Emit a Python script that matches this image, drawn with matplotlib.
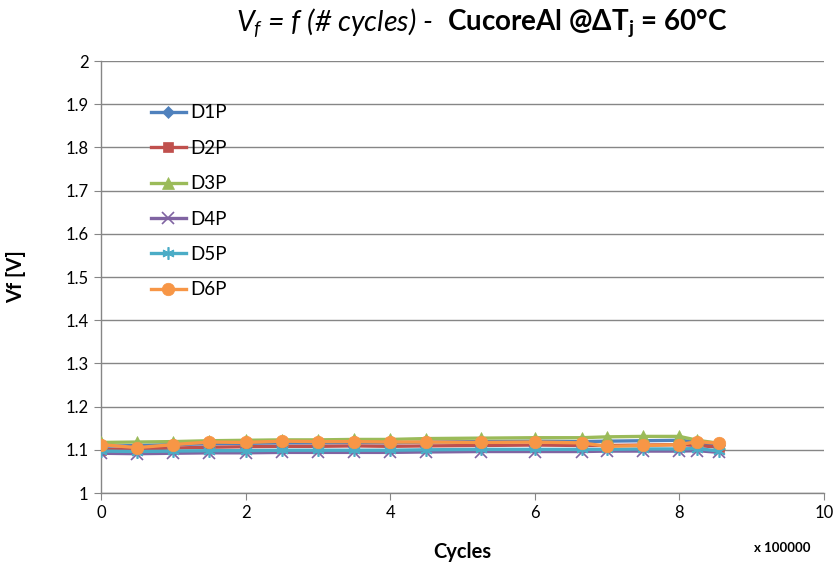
import matplotlib
matplotlib.use("Agg")
import matplotlib.pyplot as plt

plt.rcParams['font.family'] = ['Lato', 'DejaVu Sans']
plt.rcParams['mathtext.fontset'] = 'custom'
plt.rcParams['mathtext.rm'] = 'Lato'
plt.rcParams['mathtext.it'] = 'Lato:italic'
plt.rcParams['mathtext.bf'] = 'Lato:bold'

# cycles (x 100000)
cycles = [0, 0.5, 1, 1.5, 2, 2.5, 3, 3.5, 4, 4.5, 5.25, 6, 6.65, 7, 7.5, 8, 8.25, 8.55]

d1p = [1.108, 1.110, 1.112, 1.114, 1.115, 1.116, 1.116, 1.117, 1.116, 1.118, 1.119, 1.120, 1.119, 1.120, 1.121, 1.122, 1.118, 1.110]
d2p = [1.100, 1.102, 1.104, 1.106, 1.107, 1.108, 1.108, 1.109, 1.108, 1.109, 1.110, 1.111, 1.110, 1.110, 1.111, 1.112, 1.110, 1.106]
d3p = [1.117, 1.118, 1.119, 1.121, 1.122, 1.123, 1.123, 1.124, 1.124, 1.126, 1.127, 1.128, 1.128, 1.130, 1.131, 1.131, 1.122, 1.115]
d4p = [1.092, 1.091, 1.092, 1.093, 1.093, 1.094, 1.094, 1.094, 1.094, 1.095, 1.096, 1.096, 1.096, 1.097, 1.097, 1.097, 1.098, 1.094]
d5p = [1.097, 1.096, 1.097, 1.098, 1.098, 1.099, 1.099, 1.099, 1.099, 1.100, 1.101, 1.101, 1.101, 1.101, 1.102, 1.102, 1.103, 1.097]
d6p = [1.112, 1.105, 1.112, 1.118, 1.117, 1.120, 1.119, 1.119, 1.118, 1.118, 1.117, 1.118, 1.116, 1.108, 1.110, 1.112, 1.119, 1.115]

series_names = ["D1P", "D2P", "D3P", "D4P", "D5P", "D6P"]
series_values = [d1p, d2p, d3p, d4p, d5p, d6p]
colors = ["#4F81BD", "#C0504D", "#9BBB59", "#8064A2", "#4BACC6", "#F79646"]
markers = ["D", "s", "^", "x", (6, 2, 0), "o"]
msizes = [6, 7, 8, 8, 9, 9]

x_ticks = [0, 2, 4, 6, 8, 10]
y_ticks = [1, 1.1, 1.2, 1.3, 1.4, 1.5, 1.6, 1.7, 1.8, 1.9, 2]

W, H = 838, 567
fig = plt.figure(figsize=(W / 100, H / 100), dpi=100)
ax = fig.add_axes([101 / W, 1 - 493 / H, (824 - 101) / W, (493 - 61) / H])

for name, vals, c, m, ms in zip(series_names, series_values, colors, markers, msizes):
    ax.plot(cycles, vals, color=c, lw=2.4, marker=m, markersize=ms,
            markeredgewidth=1.2 if m in ("x", (6, 2, 0)) else 0.5,
            markeredgecolor=c, markerfacecolor=c, label=name, zorder=3)

ax.set_xlim(0, 10)
ax.set_ylim(1, 2)
ax.set_xticks(x_ticks)
ax.set_yticks(y_ticks)
ax.set_yticklabels([f"{v:g}" for v in y_ticks])
ax.grid(axis='y', color='#868686', lw=1)
ax.set_axisbelow(True)
for s in ("top", "right"):
    ax.spines[s].set_visible(False)
for s in ("left", "bottom"):
    ax.spines[s].set_color('#868686')
    ax.spines[s].set_linewidth(1)
ax.tick_params(axis='both', direction='out', length=5, color='#868686',
               labelsize=12, labelcolor='#000000', pad=4)

ax.set_xlabel("Cycles", fontsize=14.5, fontweight='bold', labelpad=15)
ax.set_ylabel("Vf [V]", fontsize=14.5, fontweight='bold', labelpad=28)
fig.text(782 / W, 1 - 548 / H, "x 100000", fontsize=9.5, fontweight='bold',
         ha='center', va='center')

leg = ax.legend(loc='upper left', bbox_to_anchor=(42 / 723, 1 - 36 / 432),
                frameon=False, fontsize=13.5, handlelength=1.9,
                labelspacing=0.98, handletextpad=0.2, borderaxespad=0)

fig.text(236 / W, 1 - 23 / H, r"$V_f$ = $f$ (# cycles) -",
         fontsize=20.5, style='italic', ha='left', va='center')
fig.text(447 / W, 1 - 23 / H, r"CucoreAl @$\mathbf{\Delta T_j}$ = 60°C",
         fontsize=20, fontweight='bold', ha='left', va='center')

fig.savefig("out.png", dpi=100)
